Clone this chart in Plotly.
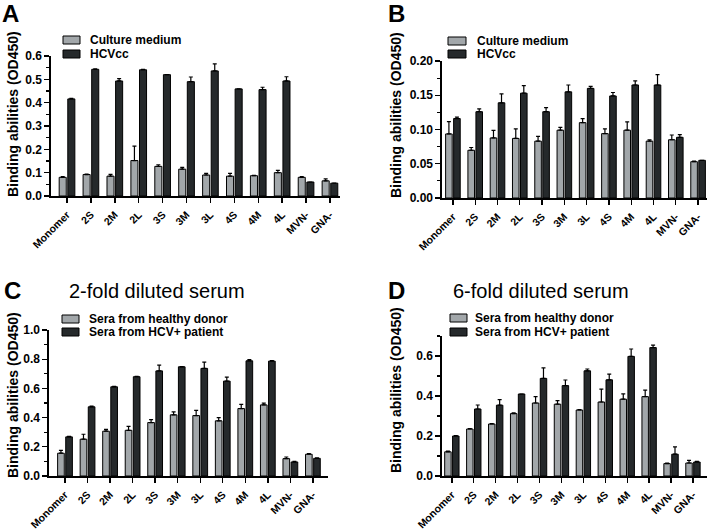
import plotly.graph_objects as go

W, H = 708, 532

categories = ["Monomer", "2S", "2M", "2L", "3S", "3M", "3L", "4S", "4M", "4L", "MVN-", "GNA-"]

# Panel A
a_medium = [0.080, 0.092, 0.085, 0.152, 0.127, 0.115, 0.090, 0.085, 0.087, 0.100, 0.080, 0.065]
a_medium_err = [0.003, 0.002, 0.008, 0.062, 0.007, 0.008, 0.007, 0.012, 0.002, 0.010, 0.003, 0.008]
a_hcv = [0.416, 0.543, 0.493, 0.541, 0.520, 0.490, 0.536, 0.459, 0.456, 0.493, 0.060, 0.055]
a_hcv_err = [0.002, 0.002, 0.010, 0.002, 0.000, 0.020, 0.030, 0.000, 0.010, 0.018, 0.000, 0.000]

# Panel B
b_medium = [0.0935, 0.0697, 0.0877, 0.0870, 0.0830, 0.0990, 0.1100, 0.0940, 0.0990, 0.0830, 0.0850, 0.0530]
b_medium_err = [0.018, 0.004, 0.011, 0.014, 0.007, 0.004, 0.006, 0.007, 0.012, 0.002, 0.007, 0.001]
b_hcv = [0.116, 0.126, 0.139, 0.153, 0.126, 0.155, 0.160, 0.149, 0.165, 0.165, 0.0886, 0.055]
b_hcv_err = [0.002, 0.004, 0.013, 0.011, 0.006, 0.010, 0.003, 0.005, 0.006, 0.015, 0.004, 0.000]

# Panel C
c_healthy = [0.156, 0.252, 0.307, 0.313, 0.366, 0.419, 0.414, 0.378, 0.462, 0.487, 0.119, 0.149]
c_healthy_err = [0.020, 0.034, 0.013, 0.027, 0.020, 0.020, 0.036, 0.022, 0.028, 0.012, 0.011, 0.004]
c_patient = [0.268, 0.474, 0.611, 0.680, 0.720, 0.748, 0.737, 0.650, 0.789, 0.787, 0.096, 0.121]
c_patient_err = [0.003, 0.004, 0.003, 0.003, 0.040, 0.002, 0.043, 0.027, 0.008, 0.004, 0.004, 0.003]

# Panel D
d_healthy = [0.121, 0.235, 0.260, 0.312, 0.365, 0.359, 0.330, 0.370, 0.384, 0.397, 0.062, 0.065]
d_healthy_err = [0.003, 0.002, 0.002, 0.004, 0.032, 0.018, 0.002, 0.064, 0.027, 0.032, 0.002, 0.013]
d_patient = [0.200, 0.335, 0.354, 0.410, 0.488, 0.452, 0.526, 0.481, 0.598, 0.642, 0.109, 0.070]
d_patient_err = [0.002, 0.020, 0.028, 0.000, 0.053, 0.028, 0.009, 0.028, 0.037, 0.012, 0.037, 0.003]

legend_ab = ["Culture medium", "HCVcc"]
legend_cd = ["Sera from healthy donor", "Sera from HCV+ patient"]
titles = {"C": "2-fold diluted serum", "D": "6-fold diluted serum"}
y_title = "Binding abilities (OD450)"

GRAY = "#A2A7AA"
DARK = "#25292B"
FONT = "Liberation Sans, Arial, sans-serif"

def px_x(p):
    return p / W

def px_y(p):
    return 1 - p / H

panels = [
    # suffix, light, light_err, dark, dark_err, xdom(px), ydom(px: bottom, top), yrange, dtick, minor dtick, xrange, tickformat
    ("", a_medium, a_medium_err, a_hcv, a_hcv_err, (51, 340), (196, 56), [0, 0.6], 0.1, 0.05, [-0.67, 11.42], ".1f"),
    ("2", b_medium, b_medium_err, b_hcv, b_hcv_err, (442, 707), (198, 61), [0, 0.2], 0.05, 0.025, [-0.49, 11.4], ".2f"),
    ("3", c_healthy, c_healthy_err, c_patient, c_patient_err, (49, 328), (476, 330), [0, 1.0], 0.2, 0.1, [-0.71, 11.67], ".1f"),
    ("4", d_healthy, d_healthy_err, d_patient, d_patient_err, (442, 707), (476, 336), [0, 0.7], 0.2, 0.1, [-0.45, 11.64], ".1f"),
]

fig = go.Figure()
layout = {}
for sfx, lv, le, dv, de, xd, yd, yr, dt, mdt, xr, tf in panels:
    xa = "x" + sfx
    ya = "y" + sfx
    for vals, errs, col in ((lv, le, GRAY), (dv, de, DARK)):
        fig.add_trace(go.Bar(
            x=categories, y=vals, xaxis=xa, yaxis=ya,
            marker=dict(color=col, line=dict(color="black", width=1)),
            error_y=dict(type="data", symmetric=False, array=errs,
                         arrayminus=[0] * len(errs), color="black",
                         thickness=1.2, width=2),
            showlegend=False, hoverinfo="skip",
        ))
    layout["xaxis" + sfx] = dict(
        domain=[px_x(xd[0]), px_x(xd[1])], anchor=ya, type="category",
        range=xr, showline=True, linecolor="black", linewidth=1.6,
        ticks="outside", ticklen=5, tickwidth=1.4, tickcolor="black",
        tickangle=-45, ticklabelstandoff=2,
        tickfont=dict(family=FONT, size=10.5, color="black", weight="bold"),
        showgrid=False, zeroline=False, fixedrange=True, automargin=False,
    )
    layout["yaxis" + sfx] = dict(
        domain=[px_y(yd[0]), px_y(yd[1])], anchor=xa, range=yr,
        dtick=dt, tick0=0, tickformat=tf, showline=True, linecolor="black",
        linewidth=1.6, ticks="outside", ticklen=5, tickwidth=1.4, tickcolor="black",
        minor=dict(dtick=mdt, ticks="outside", ticklen=3, tickwidth=1.2, tickcolor="black", showgrid=False),
        tickfont=dict(family=FONT, size=12, color="black", weight="bold"),
        showgrid=False, zeroline=False, fixedrange=True, automargin=False,
    )

annotations = []
shapes = []

# panel letters
for letter, x, y in (("A", 0, 14), ("B", 386, 14), ("C", 2, 290), ("D", 386, 290)):
    annotations.append(dict(text="<b>%s</b>" % letter, x=px_x(x), y=px_y(y), xref="paper", yref="paper",
                            xanchor="left", yanchor="middle", showarrow=False,
                            font=dict(family=FONT, size=24, color="black")))

# titles
for key, x in (("C", 67), ("D", 451)):
    annotations.append(dict(text=titles[key], x=px_x(x), y=px_y(291), xref="paper", yref="paper",
                            xanchor="left", yanchor="middle", showarrow=False,
                            font=dict(family=FONT, size=20, color="black")))

# y-axis titles
for x, y in ((13, 114), (396, 115), (13, 395), (396, 390)):
    annotations.append(dict(text="<b>%s</b>" % y_title, x=px_x(x), y=px_y(y), xref="paper", yref="paper",
                            xanchor="center", yanchor="middle", textangle=-90, showarrow=False,
                            font=dict(family=FONT, size=14, color="black")))

# legends
legend_specs = [
    (legend_ab, 63, 80, 88, (36, 44), (50, 58)),
    (legend_ab, 448, 466, 475, (37, 45), (50, 58)),
    (legend_cd, 62, 79, 87, (315, 323), (328, 336)),
    (legend_cd, 450, 467, 473, (314, 322), (328, 336)),
]
for labels, x0, x1, tx, r1, r2 in legend_specs:
    for lab, (yt, yb), col in ((labels[0], r1, GRAY), (labels[1], r2, DARK)):
        shapes.append(dict(type="rect", xref="paper", yref="paper",
                           x0=px_x(x0), x1=px_x(x1), y0=px_y(yb), y1=px_y(yt),
                           fillcolor=col, line=dict(color="black", width=1)))
        annotations.append(dict(text="<b>%s</b>" % lab, x=px_x(tx), y=px_y((yt + yb) / 2),
                                xref="paper", yref="paper", xanchor="left", yanchor="middle",
                                showarrow=False, font=dict(family=FONT, size=12, color="black")))

fig.update_layout(
    width=W, height=H, autosize=False,
    margin=dict(l=0, r=0, t=0, b=0, pad=0, autoexpand=False),
    paper_bgcolor="white", plot_bgcolor="white",
    barmode="group", bargap=0.28, bargroupgap=0.18,
    annotations=annotations, shapes=shapes,
    font=dict(family=FONT, color="black"),
    hovermode=False,
    **layout,
)

fig.write_html("out.html", config={"displayModeBar": False, "staticPlot": True},
               post_script="document.body.style.margin='0';document.body.style.overflow='hidden';")
